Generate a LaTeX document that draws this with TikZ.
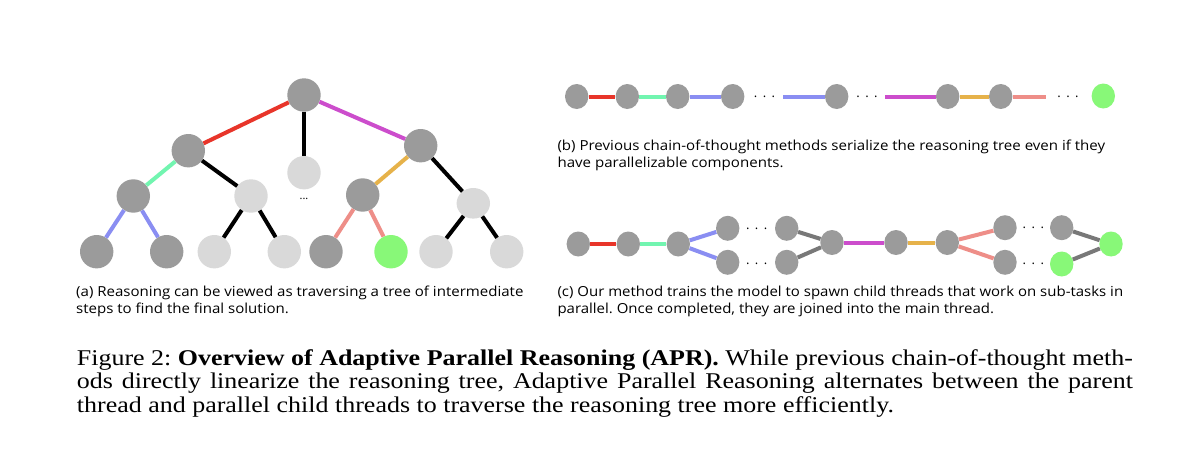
\documentclass[tikz,border=0pt]{standalone}
\usepackage{fontspec}
\usepackage{graphicx}
\usetikzlibrary{shapes.geometric}
\newfontfamily\subfont{Open Sans}
\newfontfamily\capfont{Liberation Serif}
\definecolor{ndark}{HTML}{9B9B9B}
\definecolor{nlight}{HTML}{D9D9D9}
\definecolor{ngreen}{HTML}{88F878}
\definecolor{cred}{HTML}{E8352A}
\definecolor{cmint}{HTML}{72F5B0}
\definecolor{cblue}{HTML}{8A8EF2}
\definecolor{cmag}{HTML}{CC4DCC}
\definecolor{corange}{HTML}{E6B24A}
\definecolor{csalmon}{HTML}{EE8E88}
\definecolor{cgray}{HTML}{787878}
\newsavebox\mybox
\newlength\capw
\newlength\mywid
\newcommand\subsz{\subfont\fontsize{13.8}{16}\selectfont}
\newcommand\capsz{\capfont\fontsize{22.5}{25}\selectfont}
\frenchspacing
\AtBeginDocument{%
\frenchspacing
\sbox\mybox{\subsz (a) Reasoning can be viewed as traversing a tree of intermediate}%
\setlength\mywid{\wd\mybox}\pgfmathsetmacro\sxA{447.3/\mywid}%
\sbox\mybox{\subsz (b) Previous chain-of-thought methods serialize the reasoning tree even if they}%
\setlength\mywid{\wd\mybox}\pgfmathsetmacro\sxB{547.7/\mywid}%
\sbox\mybox{\subsz (c) Our method trains the model to spawn child threads that work on sub-tasks in}%
\setlength\mywid{\wd\mybox}\pgfmathsetmacro\sxC{565.7/\mywid}%
\sbox\mybox{\capsz Figure 2: \textbf{Overview of Adaptive Parallel Reasoning (APR).} While previous chain-of-thought meth-}%
\setlength\capw{\wd\mybox}\pgfmathsetmacro\sxM{1056/\capw}%
}
\begin{document}
\begin{tikzpicture}[x=1pt,y=-1pt,
  tn/.style={ellipse, minimum width=33.4pt, minimum height=33.4pt, inner sep=0pt},
  tdark/.style={tn, fill=ndark},
  tlight/.style={tn, fill=nlight},
  tgreen/.style={tn, fill=ngreen},
  cn/.style={ellipse, minimum width=23.4pt, minimum height=25pt, inner sep=0pt},
  cdark/.style={cn, fill=ndark},
  cgreen/.style={cn, fill=ngreen},
  ln/.style={line width=4pt},
  dotsn/.style={inner sep=0pt, anchor=base, font=\subfont\fontsize{13}{13}\selectfont},
  txt/.style={inner sep=0pt, anchor=base west}]
\fill[white] (0,0) rectangle (1194,460);
\useasboundingbox (0,0) rectangle (1194,460);
% ---- (a) tree
\node[tdark] (r) at (304,95) {};
\node[tdark] (a1) at (188.3,150.7) {};
\node[tlight] (a2) at (304,172.7) {};
\node[tdark] (a3) at (420.7,145.7) {};
\node[tdark] (b1) at (133.3,196) {};
\node[tlight] (b2) at (251,196) {};
\node[tdark] (b3) at (362.7,195) {};
\node[tlight, minimum height=30.6pt] (b4) at (473.3,203.3) {};
\node[tdark] (c1) at (96.7,251.7) {};
\node[tdark] (c2) at (166.7,251.7) {};
\node[tlight] (c3) at (214.3,251.7) {};
\node[tlight] (c4) at (284.3,251.7) {};
\node[tdark] (c5) at (326,251.7) {};
\node[tgreen] (c6) at (391,251.7) {};
\node[tlight] (c7) at (436,251.7) {};
\node[tlight] (c8) at (506.7,251.7) {};
\node[inner sep=0pt, anchor=base, font=\subfont\fontsize{11}{11}\selectfont] (tdots) at (304,199) {...};
\draw[ln, cred] (r) -- (a1);
\draw[ln, black] (r) -- (a2);
\draw[ln, cmag] (r) -- (a3);
\draw[ln, cmint] (a1) -- (b1);
\draw[ln, black] (a1) -- (b2);
\draw[ln, corange] (a3) -- (b3);
\draw[ln, black] (a3) -- (b4);
\draw[ln, cblue] (b1) -- (c1);
\draw[ln, cblue] (b1) -- (c2);
\draw[ln, black] (b2) -- (c3);
\draw[ln, black] (b2) -- (c4);
\draw[ln, csalmon] (b3) -- (c5);
\draw[ln, csalmon] (b3) -- (c6);
\draw[ln, black] (b4) -- (c7);
\draw[ln, black] (b4) -- (c8);
\node[txt] (capa1) at (76,296.7) {\scalebox{\sxA}[1]{\subsz (a) Reasoning can be viewed as traversing a tree of intermediate}};
\node[txt] (capa2) at (76,313.3) {\scalebox{\sxA}[1]{\subsz steps to find the final solution.}};
% ---- (b) chain
\node[cdark] (p1) at (576.7,96.5) {};
\node[cdark] (p2) at (627.3,96.5) {};
\node[cdark] (p3) at (677.7,96.5) {};
\node[cdark] (p4) at (732.7,96.5) {};
\node[dotsn] (pd1) at (764.5,97.6) {.\kern5.5pt.\kern5.5pt.};
\coordinate (s1) at (783.3,96.5);
\node[cdark] (p5) at (836.7,96.5) {};
\node[dotsn] (pd2) at (867,97.6) {.\kern5.5pt.\kern5.5pt.};
\coordinate (s2) at (885,96.5);
\node[cdark] (p6) at (947.7,96.5) {};
\node[cdark] (p7) at (1000.7,96.5) {};
\coordinate (s3) at (1046,96.5);
\node[dotsn] (pd3) at (1068,97.6) {.\kern5.5pt.\kern5.5pt.};
\node[cgreen] (pg) at (1103.3,96) {};
\draw[ln, cred] (p1) -- (p2);
\draw[ln, cmint] (p2) -- (p3);
\draw[ln, cblue] (p3) -- (p4);
\draw[ln, cblue] (s1) -- (p5);
\draw[ln, cmag] (s2) -- (p6);
\draw[ln, corange] (p6) -- (p7);
\draw[ln, csalmon] (p7) -- (s3);
\node[txt] (capb1) at (557.3,150.3) {\scalebox{\sxB}[1]{\subsz (b) Previous chain-of-thought methods serialize the reasoning tree even if they}};
\node[txt] (capb2) at (557.3,167) {\scalebox{\sxB}[1]{\subsz have parallelizable components.}};
% ---- (c) parallel threads
\node[cdark] (q1) at (578.3,244) {};
\node[cdark] (q2) at (628.3,244) {};
\node[cdark] (q3) at (678.3,244) {};
\node[cdark] (u1) at (727.7,228.3) {};
\node[cdark] (l1) at (727.7,262.3) {};
\node[dotsn] (qd1) at (756.7,229.5) {.\kern5.5pt.\kern5.5pt.};
\node[dotsn] (qd2) at (756.7,264.5) {.\kern5.5pt.\kern5.5pt.};
\node[cdark] (u2) at (786.7,228.3) {};
\node[cdark] (l2) at (786.7,262.3) {};
\node[cdark] (j1) at (832,242.5) {};
\node[cdark] (q4) at (896,242.5) {};
\node[cdark] (q5) at (947.3,242.5) {};
\node[cdark] (u3) at (1005,227.7) {};
\node[cdark] (l3) at (1005,262.3) {};
\node[dotsn] (qd3) at (1033.3,228.8) {.\kern5.5pt.\kern5.5pt.};
\node[dotsn] (qd4) at (1033.3,264) {.\kern5.5pt.\kern5.5pt.};
\node[cdark] (u4) at (1061.7,227.7) {};
\node[cgreen] (lg) at (1061.7,264) {};
\node[cgreen] (fg) at (1111,244) {};
\draw[ln, cred] (q1) -- (q2);
\draw[ln, cmint] (q2) -- (q3);
\draw[ln, cblue] (q3) -- (u1);
\draw[ln, cblue] (q3) -- (l1);
\draw[ln, cgray] (u2) -- (j1);
\draw[ln, cgray] (l2) -- (j1);
\draw[ln, cmag] (j1) -- (q4);
\draw[ln, corange] (q4) -- (q5);
\draw[ln, csalmon] (q5) -- (u3);
\draw[ln, csalmon] (q5) -- (l3);
\draw[ln, cgray] (u4) -- (fg);
\draw[ln, cgray] (lg) -- (fg);
\node[txt] (capc1) at (557.3,296.3) {\scalebox{\sxC}[1]{\subsz (c) Our method trains the model to spawn child threads that work on sub-tasks in}};
\node[txt] (capc2) at (557.3,313) {\scalebox{\sxC}[1]{\subsz parallel. Once completed, they are joined into the main thread.}};
% ---- main caption
\node[txt] (m1) at (76.7,365) {\scalebox{\sxM}[1]{\capsz Figure 2: \textbf{Overview of Adaptive Parallel Reasoning (APR).} While previous chain-of-thought meth-}};
\node[txt] (m2) at (76.7,388.5) {\scalebox{\sxM}[1]{\makebox[\capw][s]{\capsz ods directly linearize the reasoning tree, Adaptive Parallel Reasoning alternates between the parent}}};
\node[txt] (m3) at (76.7,412) {\scalebox{\sxM}[1]{\capsz thread and parallel child threads to traverse the reasoning tree more efficiently.}};
\end{tikzpicture}
\end{document}
